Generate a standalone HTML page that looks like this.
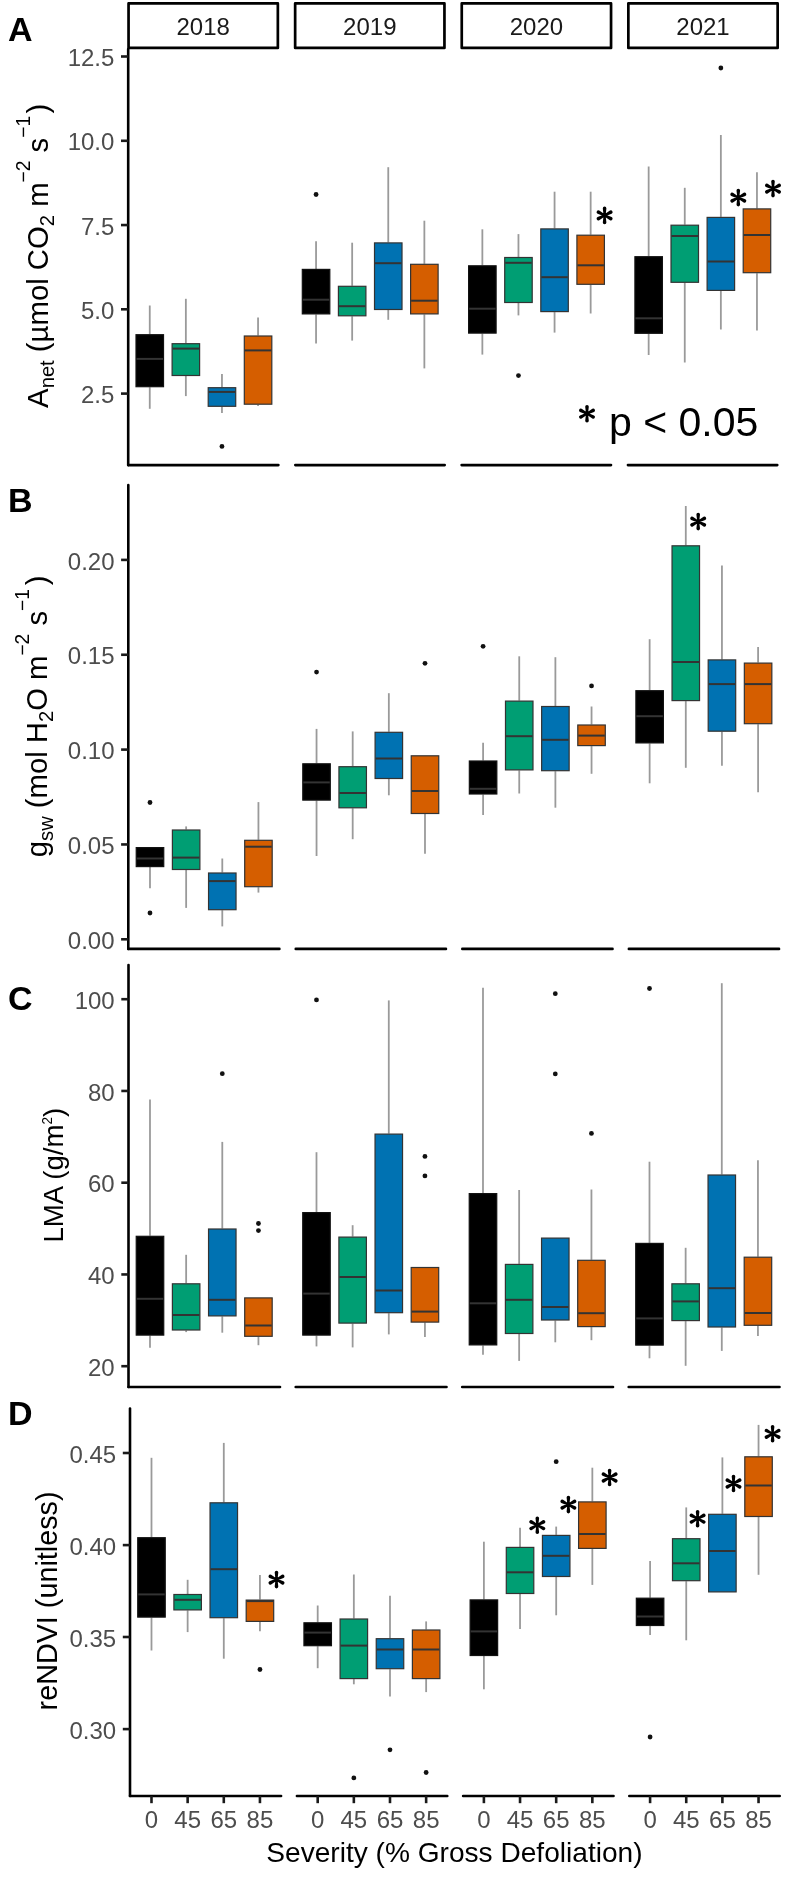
<!DOCTYPE html>
<html><head><meta charset="utf-8"><title>Figure</title>
<style>
html,body{margin:0;padding:0;background:#fff;}
svg{display:block;will-change:transform;}
text{font-family:"Liberation Sans",sans-serif;}
.wk{stroke:#9a9a9a;stroke-width:1.8;}
.ax{stroke:#000;stroke-width:2.6;stroke-linecap:round;}
.tk{stroke:#1a1a1a;stroke-width:2.6;}
.tl{font-size:24.0px;fill:#4d4d4d;}
.st{font-size:24.0px;fill:#1a1a1a;}
.ti{font-size:28.0px;fill:#000;}
.pl{font-size:34px;font-weight:bold;fill:#000;}
.pv{font-size:41px;fill:#000;}
</style></head>
<body>
<svg width="795" height="1882" viewBox="0 0 795 1882">
<rect width="795" height="1882" fill="#fff"/>
<line x1="149.76" y1="305.50" x2="149.76" y2="334.20" class="wk"/>
<line x1="149.76" y1="387.20" x2="149.76" y2="408.80" class="wk"/>
<rect x="136.01" y="334.70" width="27.50" height="52.00" fill="#000000" stroke="#111111" stroke-width="1.2"/>
<line x1="136.51" y1="358.90" x2="163.01" y2="358.90" stroke="#333333" stroke-width="2"/>
<line x1="185.86" y1="298.80" x2="185.86" y2="343.20" class="wk"/>
<line x1="185.86" y1="376.00" x2="185.86" y2="396.10" class="wk"/>
<rect x="172.11" y="343.70" width="27.50" height="31.80" fill="#009E73" stroke="#333333" stroke-width="1.2"/>
<line x1="172.61" y1="348.60" x2="199.11" y2="348.60" stroke="#333333" stroke-width="2"/>
<line x1="221.96" y1="374.00" x2="221.96" y2="387.20" class="wk"/>
<line x1="221.96" y1="406.80" x2="221.96" y2="413.00" class="wk"/>
<rect x="208.21" y="387.70" width="27.50" height="18.60" fill="#0072B2" stroke="#333333" stroke-width="1.2"/>
<line x1="208.71" y1="391.90" x2="235.21" y2="391.90" stroke="#333333" stroke-width="2"/>
<circle cx="221.96" cy="446.40" r="2.4" fill="#111"/>
<line x1="258.06" y1="317.40" x2="258.06" y2="335.50" class="wk"/>
<line x1="258.06" y1="404.70" x2="258.06" y2="406.00" class="wk"/>
<rect x="244.31" y="336.00" width="27.50" height="68.20" fill="#D55E00" stroke="#333333" stroke-width="1.2"/>
<line x1="244.81" y1="350.40" x2="271.31" y2="350.40" stroke="#333333" stroke-width="2"/>
<line x1="316.06" y1="241.20" x2="316.06" y2="268.90" class="wk"/>
<line x1="316.06" y1="314.40" x2="316.06" y2="343.50" class="wk"/>
<rect x="302.31" y="269.40" width="27.50" height="44.50" fill="#000000" stroke="#111111" stroke-width="1.2"/>
<line x1="302.81" y1="299.70" x2="329.31" y2="299.70" stroke="#333333" stroke-width="2"/>
<circle cx="316.06" cy="194.50" r="2.4" fill="#111"/>
<line x1="352.16" y1="242.70" x2="352.16" y2="285.80" class="wk"/>
<line x1="352.16" y1="316.30" x2="352.16" y2="340.60" class="wk"/>
<rect x="338.41" y="286.30" width="27.50" height="29.50" fill="#009E73" stroke="#333333" stroke-width="1.2"/>
<line x1="338.91" y1="306.20" x2="365.41" y2="306.20" stroke="#333333" stroke-width="2"/>
<line x1="388.26" y1="167.20" x2="388.26" y2="242.40" class="wk"/>
<line x1="388.26" y1="310.00" x2="388.26" y2="319.80" class="wk"/>
<rect x="374.51" y="242.90" width="27.50" height="66.60" fill="#0072B2" stroke="#333333" stroke-width="1.2"/>
<line x1="375.01" y1="263.20" x2="401.51" y2="263.20" stroke="#333333" stroke-width="2"/>
<line x1="424.36" y1="220.70" x2="424.36" y2="263.80" class="wk"/>
<line x1="424.36" y1="314.40" x2="424.36" y2="368.40" class="wk"/>
<rect x="410.61" y="264.30" width="27.50" height="49.60" fill="#D55E00" stroke="#333333" stroke-width="1.2"/>
<line x1="411.11" y1="300.70" x2="437.61" y2="300.70" stroke="#333333" stroke-width="2"/>
<line x1="482.36" y1="229.30" x2="482.36" y2="265.30" class="wk"/>
<line x1="482.36" y1="333.60" x2="482.36" y2="354.60" class="wk"/>
<rect x="468.61" y="265.80" width="27.50" height="67.30" fill="#000000" stroke="#111111" stroke-width="1.2"/>
<line x1="469.11" y1="308.70" x2="495.61" y2="308.70" stroke="#333333" stroke-width="2"/>
<line x1="518.46" y1="234.10" x2="518.46" y2="257.00" class="wk"/>
<line x1="518.46" y1="303.00" x2="518.46" y2="315.40" class="wk"/>
<rect x="504.71" y="257.50" width="27.50" height="45.00" fill="#009E73" stroke="#333333" stroke-width="1.2"/>
<line x1="505.21" y1="262.80" x2="531.71" y2="262.80" stroke="#333333" stroke-width="2"/>
<circle cx="518.46" cy="375.60" r="2.4" fill="#111"/>
<line x1="554.56" y1="191.70" x2="554.56" y2="228.40" class="wk"/>
<line x1="554.56" y1="312.10" x2="554.56" y2="332.60" class="wk"/>
<rect x="540.81" y="228.90" width="27.50" height="82.70" fill="#0072B2" stroke="#333333" stroke-width="1.2"/>
<line x1="541.31" y1="277.20" x2="567.81" y2="277.20" stroke="#333333" stroke-width="2"/>
<line x1="590.66" y1="191.70" x2="590.66" y2="234.70" class="wk"/>
<line x1="590.66" y1="284.80" x2="590.66" y2="313.50" class="wk"/>
<rect x="576.91" y="235.20" width="27.50" height="49.10" fill="#D55E00" stroke="#333333" stroke-width="1.2"/>
<line x1="577.41" y1="265.30" x2="603.91" y2="265.30" stroke="#333333" stroke-width="2"/>
<line x1="648.66" y1="166.50" x2="648.66" y2="256.20" class="wk"/>
<line x1="648.66" y1="333.80" x2="648.66" y2="355.00" class="wk"/>
<rect x="634.91" y="256.70" width="27.50" height="76.60" fill="#000000" stroke="#111111" stroke-width="1.2"/>
<line x1="635.41" y1="318.30" x2="661.91" y2="318.30" stroke="#333333" stroke-width="2"/>
<line x1="684.76" y1="187.80" x2="684.76" y2="224.70" class="wk"/>
<line x1="684.76" y1="282.80" x2="684.76" y2="362.50" class="wk"/>
<rect x="671.01" y="225.20" width="27.50" height="57.10" fill="#009E73" stroke="#333333" stroke-width="1.2"/>
<line x1="671.51" y1="236.00" x2="698.01" y2="236.00" stroke="#333333" stroke-width="2"/>
<line x1="720.86" y1="135.00" x2="720.86" y2="216.90" class="wk"/>
<line x1="720.86" y1="290.90" x2="720.86" y2="329.50" class="wk"/>
<rect x="707.11" y="217.40" width="27.50" height="73.00" fill="#0072B2" stroke="#333333" stroke-width="1.2"/>
<line x1="707.61" y1="261.50" x2="734.11" y2="261.50" stroke="#333333" stroke-width="2"/>
<circle cx="720.86" cy="68.00" r="2.4" fill="#111"/>
<line x1="756.96" y1="172.20" x2="756.96" y2="208.40" class="wk"/>
<line x1="756.96" y1="273.20" x2="756.96" y2="330.60" class="wk"/>
<rect x="743.21" y="208.90" width="27.50" height="63.80" fill="#D55E00" stroke="#333333" stroke-width="1.2"/>
<line x1="743.71" y1="235.00" x2="770.21" y2="235.00" stroke="#333333" stroke-width="2"/>
<line x1="128.20" y1="49.00" x2="128.20" y2="465.10" class="ax"/>
<line x1="128.20" y1="465.10" x2="278.40" y2="465.10" class="ax"/>
<line x1="295.30" y1="465.10" x2="444.70" y2="465.10" class="ax"/>
<line x1="461.60" y1="465.10" x2="611.00" y2="465.10" class="ax"/>
<line x1="627.90" y1="465.10" x2="777.30" y2="465.10" class="ax"/>
<line x1="121.00" y1="56.50" x2="128.20" y2="56.50" class="tk"/>
<text x="114.40" y="66.10" class="tl" text-anchor="end">12.5</text>
<line x1="121.00" y1="140.80" x2="128.20" y2="140.80" class="tk"/>
<text x="114.40" y="150.40" class="tl" text-anchor="end">10.0</text>
<line x1="121.00" y1="225.05" x2="128.20" y2="225.05" class="tk"/>
<text x="114.40" y="234.65" class="tl" text-anchor="end">7.5</text>
<line x1="121.00" y1="309.30" x2="128.20" y2="309.30" class="tk"/>
<text x="114.40" y="318.90" class="tl" text-anchor="end">5.0</text>
<line x1="121.00" y1="393.60" x2="128.20" y2="393.60" class="tk"/>
<text x="114.40" y="403.20" class="tl" text-anchor="end">2.5</text>
<line x1="149.99" y1="867.10" x2="149.99" y2="888.20" class="wk"/>
<rect x="136.24" y="847.60" width="27.50" height="19.00" fill="#000000" stroke="#111111" stroke-width="1.2"/>
<line x1="136.74" y1="858.50" x2="163.24" y2="858.50" stroke="#333333" stroke-width="2"/>
<circle cx="149.99" cy="802.50" r="2.4" fill="#111"/>
<circle cx="149.99" cy="913.00" r="2.4" fill="#111"/>
<line x1="186.14" y1="826.40" x2="186.14" y2="829.50" class="wk"/>
<line x1="186.14" y1="870.00" x2="186.14" y2="907.90" class="wk"/>
<rect x="172.39" y="830.00" width="27.50" height="39.50" fill="#009E73" stroke="#333333" stroke-width="1.2"/>
<line x1="172.89" y1="857.60" x2="199.39" y2="857.60" stroke="#333333" stroke-width="2"/>
<line x1="222.29" y1="858.50" x2="222.29" y2="872.50" class="wk"/>
<line x1="222.29" y1="910.20" x2="222.29" y2="926.40" class="wk"/>
<rect x="208.54" y="873.00" width="27.50" height="36.70" fill="#0072B2" stroke="#333333" stroke-width="1.2"/>
<line x1="209.04" y1="881.10" x2="235.54" y2="881.10" stroke="#333333" stroke-width="2"/>
<line x1="258.44" y1="802.10" x2="258.44" y2="839.80" class="wk"/>
<line x1="258.44" y1="887.20" x2="258.44" y2="892.60" class="wk"/>
<rect x="244.69" y="840.30" width="27.50" height="46.40" fill="#D55E00" stroke="#333333" stroke-width="1.2"/>
<line x1="245.19" y1="846.70" x2="271.69" y2="846.70" stroke="#333333" stroke-width="2"/>
<line x1="316.54" y1="728.90" x2="316.54" y2="763.30" class="wk"/>
<line x1="316.54" y1="800.60" x2="316.54" y2="856.00" class="wk"/>
<rect x="302.79" y="763.80" width="27.50" height="36.30" fill="#000000" stroke="#111111" stroke-width="1.2"/>
<line x1="303.29" y1="782.40" x2="329.79" y2="782.40" stroke="#333333" stroke-width="2"/>
<circle cx="316.54" cy="672.10" r="2.4" fill="#111"/>
<line x1="352.69" y1="731.40" x2="352.69" y2="766.20" class="wk"/>
<line x1="352.69" y1="808.30" x2="352.69" y2="839.20" class="wk"/>
<rect x="338.94" y="766.70" width="27.50" height="41.10" fill="#009E73" stroke="#333333" stroke-width="1.2"/>
<line x1="339.44" y1="793.00" x2="365.94" y2="793.00" stroke="#333333" stroke-width="2"/>
<line x1="388.84" y1="693.20" x2="388.84" y2="731.80" class="wk"/>
<line x1="388.84" y1="779.00" x2="388.84" y2="795.30" class="wk"/>
<rect x="375.09" y="732.30" width="27.50" height="46.20" fill="#0072B2" stroke="#333333" stroke-width="1.2"/>
<line x1="375.59" y1="758.50" x2="402.09" y2="758.50" stroke="#333333" stroke-width="2"/>
<line x1="424.99" y1="814.00" x2="424.99" y2="853.80" class="wk"/>
<rect x="411.24" y="755.80" width="27.50" height="57.70" fill="#D55E00" stroke="#333333" stroke-width="1.2"/>
<line x1="411.74" y1="791.00" x2="438.24" y2="791.00" stroke="#333333" stroke-width="2"/>
<circle cx="424.99" cy="663.30" r="2.4" fill="#111"/>
<line x1="483.09" y1="742.70" x2="483.09" y2="760.50" class="wk"/>
<line x1="483.09" y1="794.50" x2="483.09" y2="815.00" class="wk"/>
<rect x="469.34" y="761.00" width="27.50" height="33.00" fill="#000000" stroke="#111111" stroke-width="1.2"/>
<line x1="469.84" y1="788.80" x2="496.34" y2="788.80" stroke="#333333" stroke-width="2"/>
<circle cx="483.09" cy="646.30" r="2.4" fill="#111"/>
<line x1="519.24" y1="656.30" x2="519.24" y2="700.60" class="wk"/>
<line x1="519.24" y1="770.40" x2="519.24" y2="793.50" class="wk"/>
<rect x="505.49" y="701.10" width="27.50" height="68.80" fill="#009E73" stroke="#333333" stroke-width="1.2"/>
<line x1="505.99" y1="736.20" x2="532.49" y2="736.20" stroke="#333333" stroke-width="2"/>
<line x1="555.39" y1="657.20" x2="555.39" y2="706.00" class="wk"/>
<line x1="555.39" y1="771.20" x2="555.39" y2="807.70" class="wk"/>
<rect x="541.64" y="706.50" width="27.50" height="64.20" fill="#0072B2" stroke="#333333" stroke-width="1.2"/>
<line x1="542.14" y1="739.80" x2="568.64" y2="739.80" stroke="#333333" stroke-width="2"/>
<line x1="591.54" y1="706.50" x2="591.54" y2="724.50" class="wk"/>
<line x1="591.54" y1="746.10" x2="591.54" y2="773.80" class="wk"/>
<rect x="577.79" y="725.00" width="27.50" height="20.60" fill="#D55E00" stroke="#333333" stroke-width="1.2"/>
<line x1="578.29" y1="735.60" x2="604.79" y2="735.60" stroke="#333333" stroke-width="2"/>
<circle cx="591.54" cy="685.90" r="2.4" fill="#111"/>
<line x1="649.64" y1="639.20" x2="649.64" y2="690.20" class="wk"/>
<line x1="649.64" y1="743.40" x2="649.64" y2="783.30" class="wk"/>
<rect x="635.89" y="690.70" width="27.50" height="52.20" fill="#000000" stroke="#111111" stroke-width="1.2"/>
<line x1="636.39" y1="716.20" x2="662.89" y2="716.20" stroke="#333333" stroke-width="2"/>
<line x1="685.79" y1="506.00" x2="685.79" y2="545.30" class="wk"/>
<line x1="685.79" y1="701.10" x2="685.79" y2="767.80" class="wk"/>
<rect x="672.04" y="545.80" width="27.50" height="154.80" fill="#009E73" stroke="#333333" stroke-width="1.2"/>
<line x1="672.54" y1="662.00" x2="699.04" y2="662.00" stroke="#333333" stroke-width="2"/>
<line x1="721.94" y1="565.50" x2="721.94" y2="659.40" class="wk"/>
<line x1="721.94" y1="731.70" x2="721.94" y2="765.70" class="wk"/>
<rect x="708.19" y="659.90" width="27.50" height="71.30" fill="#0072B2" stroke="#333333" stroke-width="1.2"/>
<line x1="708.69" y1="684.10" x2="735.19" y2="684.10" stroke="#333333" stroke-width="2"/>
<line x1="758.09" y1="647.10" x2="758.09" y2="662.60" class="wk"/>
<line x1="758.09" y1="724.20" x2="758.09" y2="792.20" class="wk"/>
<rect x="744.34" y="663.10" width="27.50" height="60.60" fill="#D55E00" stroke="#333333" stroke-width="1.2"/>
<line x1="744.84" y1="684.10" x2="771.34" y2="684.10" stroke="#333333" stroke-width="2"/>
<line x1="128.30" y1="485.00" x2="128.30" y2="948.90" class="ax"/>
<line x1="128.30" y1="948.90" x2="279.40" y2="948.90" class="ax"/>
<line x1="295.75" y1="948.90" x2="445.95" y2="948.90" class="ax"/>
<line x1="462.30" y1="948.90" x2="612.50" y2="948.90" class="ax"/>
<line x1="628.85" y1="948.90" x2="779.05" y2="948.90" class="ax"/>
<line x1="121.10" y1="559.90" x2="128.30" y2="559.90" class="tk"/>
<text x="114.50" y="569.50" class="tl" text-anchor="end">0.20</text>
<line x1="121.10" y1="654.75" x2="128.30" y2="654.75" class="tk"/>
<text x="114.50" y="664.35" class="tl" text-anchor="end">0.15</text>
<line x1="121.10" y1="749.60" x2="128.30" y2="749.60" class="tk"/>
<text x="114.50" y="759.20" class="tl" text-anchor="end">0.10</text>
<line x1="121.10" y1="844.45" x2="128.30" y2="844.45" class="tk"/>
<text x="114.50" y="854.05" class="tl" text-anchor="end">0.05</text>
<line x1="121.10" y1="939.30" x2="128.30" y2="939.30" class="tk"/>
<text x="114.50" y="948.90" class="tl" text-anchor="end">0.00</text>
<line x1="149.99" y1="1099.50" x2="149.99" y2="1235.80" class="wk"/>
<line x1="149.99" y1="1335.60" x2="149.99" y2="1347.70" class="wk"/>
<rect x="136.24" y="1236.30" width="27.50" height="98.80" fill="#000000" stroke="#111111" stroke-width="1.2"/>
<line x1="136.74" y1="1298.80" x2="163.24" y2="1298.80" stroke="#333333" stroke-width="2"/>
<line x1="186.14" y1="1254.80" x2="186.14" y2="1283.30" class="wk"/>
<line x1="186.14" y1="1330.50" x2="186.14" y2="1332.10" class="wk"/>
<rect x="172.39" y="1283.80" width="27.50" height="46.20" fill="#009E73" stroke="#333333" stroke-width="1.2"/>
<line x1="172.89" y1="1315.00" x2="199.39" y2="1315.00" stroke="#333333" stroke-width="2"/>
<line x1="222.29" y1="1141.90" x2="222.29" y2="1228.50" class="wk"/>
<line x1="222.29" y1="1316.40" x2="222.29" y2="1332.70" class="wk"/>
<rect x="208.54" y="1229.00" width="27.50" height="86.90" fill="#0072B2" stroke="#333333" stroke-width="1.2"/>
<line x1="209.04" y1="1299.80" x2="235.54" y2="1299.80" stroke="#333333" stroke-width="2"/>
<circle cx="222.29" cy="1073.70" r="2.4" fill="#111"/>
<line x1="258.44" y1="1336.80" x2="258.44" y2="1345.20" class="wk"/>
<rect x="244.69" y="1297.90" width="27.50" height="38.40" fill="#D55E00" stroke="#333333" stroke-width="1.2"/>
<line x1="245.19" y1="1325.50" x2="271.69" y2="1325.50" stroke="#333333" stroke-width="2"/>
<circle cx="258.44" cy="1223.50" r="2.4" fill="#111"/>
<circle cx="258.44" cy="1230.60" r="2.4" fill="#111"/>
<line x1="316.49" y1="1152.20" x2="316.49" y2="1212.10" class="wk"/>
<line x1="316.49" y1="1335.60" x2="316.49" y2="1346.40" class="wk"/>
<rect x="302.74" y="1212.60" width="27.50" height="122.50" fill="#000000" stroke="#111111" stroke-width="1.2"/>
<line x1="303.24" y1="1293.60" x2="329.74" y2="1293.60" stroke="#333333" stroke-width="2"/>
<circle cx="316.49" cy="999.90" r="2.4" fill="#111"/>
<line x1="352.64" y1="1225.20" x2="352.64" y2="1236.60" class="wk"/>
<line x1="352.64" y1="1323.60" x2="352.64" y2="1347.40" class="wk"/>
<rect x="338.89" y="1237.10" width="27.50" height="86.00" fill="#009E73" stroke="#333333" stroke-width="1.2"/>
<line x1="339.39" y1="1277.00" x2="365.89" y2="1277.00" stroke="#333333" stroke-width="2"/>
<line x1="388.79" y1="1000.40" x2="388.79" y2="1133.60" class="wk"/>
<line x1="388.79" y1="1313.20" x2="388.79" y2="1334.40" class="wk"/>
<rect x="375.04" y="1134.10" width="27.50" height="178.60" fill="#0072B2" stroke="#333333" stroke-width="1.2"/>
<line x1="375.54" y1="1290.50" x2="402.04" y2="1290.50" stroke="#333333" stroke-width="2"/>
<line x1="424.94" y1="1322.60" x2="424.94" y2="1337.10" class="wk"/>
<rect x="411.19" y="1267.50" width="27.50" height="54.60" fill="#D55E00" stroke="#333333" stroke-width="1.2"/>
<line x1="411.69" y1="1311.60" x2="438.19" y2="1311.60" stroke="#333333" stroke-width="2"/>
<circle cx="424.94" cy="1156.40" r="2.4" fill="#111"/>
<circle cx="424.94" cy="1175.90" r="2.4" fill="#111"/>
<line x1="482.99" y1="987.80" x2="482.99" y2="1193.10" class="wk"/>
<line x1="482.99" y1="1345.40" x2="482.99" y2="1354.70" class="wk"/>
<rect x="469.24" y="1193.60" width="27.50" height="151.30" fill="#000000" stroke="#111111" stroke-width="1.2"/>
<line x1="469.74" y1="1303.30" x2="496.24" y2="1303.30" stroke="#333333" stroke-width="2"/>
<line x1="519.14" y1="1190.00" x2="519.14" y2="1263.90" class="wk"/>
<line x1="519.14" y1="1334.00" x2="519.14" y2="1360.90" class="wk"/>
<rect x="505.39" y="1264.40" width="27.50" height="69.10" fill="#009E73" stroke="#333333" stroke-width="1.2"/>
<line x1="505.89" y1="1299.80" x2="532.39" y2="1299.80" stroke="#333333" stroke-width="2"/>
<line x1="555.29" y1="1320.50" x2="555.29" y2="1342.30" class="wk"/>
<rect x="541.54" y="1238.10" width="27.50" height="81.90" fill="#0072B2" stroke="#333333" stroke-width="1.2"/>
<line x1="542.04" y1="1307.00" x2="568.54" y2="1307.00" stroke="#333333" stroke-width="2"/>
<circle cx="555.29" cy="993.70" r="2.4" fill="#111"/>
<circle cx="555.29" cy="1073.90" r="2.4" fill="#111"/>
<line x1="591.44" y1="1189.50" x2="591.44" y2="1259.80" class="wk"/>
<line x1="591.44" y1="1327.10" x2="591.44" y2="1340.20" class="wk"/>
<rect x="577.69" y="1260.30" width="27.50" height="66.30" fill="#D55E00" stroke="#333333" stroke-width="1.2"/>
<line x1="578.19" y1="1313.20" x2="604.69" y2="1313.20" stroke="#333333" stroke-width="2"/>
<circle cx="591.44" cy="1133.40" r="2.4" fill="#111"/>
<line x1="649.49" y1="1161.70" x2="649.49" y2="1242.90" class="wk"/>
<line x1="649.49" y1="1345.60" x2="649.49" y2="1358.30" class="wk"/>
<rect x="635.74" y="1243.40" width="27.50" height="101.70" fill="#000000" stroke="#111111" stroke-width="1.2"/>
<line x1="636.24" y1="1318.40" x2="662.74" y2="1318.40" stroke="#333333" stroke-width="2"/>
<circle cx="649.49" cy="988.50" r="2.4" fill="#111"/>
<line x1="685.64" y1="1247.80" x2="685.64" y2="1283.30" class="wk"/>
<line x1="685.64" y1="1321.10" x2="685.64" y2="1365.80" class="wk"/>
<rect x="671.89" y="1283.80" width="27.50" height="36.80" fill="#009E73" stroke="#333333" stroke-width="1.2"/>
<line x1="672.39" y1="1301.40" x2="698.89" y2="1301.40" stroke="#333333" stroke-width="2"/>
<line x1="721.79" y1="983.20" x2="721.79" y2="1174.50" class="wk"/>
<line x1="721.79" y1="1327.50" x2="721.79" y2="1350.90" class="wk"/>
<rect x="708.04" y="1175.00" width="27.50" height="152.00" fill="#0072B2" stroke="#333333" stroke-width="1.2"/>
<line x1="708.54" y1="1288.20" x2="735.04" y2="1288.20" stroke="#333333" stroke-width="2"/>
<line x1="757.94" y1="1160.20" x2="757.94" y2="1256.70" class="wk"/>
<line x1="757.94" y1="1325.80" x2="757.94" y2="1336.00" class="wk"/>
<rect x="744.19" y="1257.20" width="27.50" height="68.10" fill="#D55E00" stroke="#333333" stroke-width="1.2"/>
<line x1="744.69" y1="1313.00" x2="771.19" y2="1313.00" stroke="#333333" stroke-width="2"/>
<line x1="128.50" y1="965.00" x2="128.50" y2="1387.00" class="ax"/>
<line x1="128.50" y1="1387.00" x2="280.00" y2="1387.00" class="ax"/>
<line x1="295.70" y1="1387.00" x2="446.50" y2="1387.00" class="ax"/>
<line x1="462.20" y1="1387.00" x2="613.00" y2="1387.00" class="ax"/>
<line x1="628.70" y1="1387.00" x2="779.50" y2="1387.00" class="ax"/>
<line x1="121.30" y1="999.20" x2="128.50" y2="999.20" class="tk"/>
<text x="114.70" y="1008.80" class="tl" text-anchor="end">100</text>
<line x1="121.30" y1="1090.95" x2="128.50" y2="1090.95" class="tk"/>
<text x="114.70" y="1100.55" class="tl" text-anchor="end">80</text>
<line x1="121.30" y1="1182.70" x2="128.50" y2="1182.70" class="tk"/>
<text x="114.70" y="1192.30" class="tl" text-anchor="end">60</text>
<line x1="121.30" y1="1274.45" x2="128.50" y2="1274.45" class="tk"/>
<text x="114.70" y="1284.05" class="tl" text-anchor="end">40</text>
<line x1="121.30" y1="1366.20" x2="128.50" y2="1366.20" class="tk"/>
<text x="114.70" y="1375.80" class="tl" text-anchor="end">20</text>
<line x1="151.49" y1="1457.80" x2="151.49" y2="1537.20" class="wk"/>
<line x1="151.49" y1="1617.60" x2="151.49" y2="1650.50" class="wk"/>
<rect x="137.74" y="1537.70" width="27.50" height="79.40" fill="#000000" stroke="#111111" stroke-width="1.2"/>
<line x1="138.24" y1="1594.40" x2="164.74" y2="1594.40" stroke="#333333" stroke-width="2"/>
<line x1="187.64" y1="1579.80" x2="187.64" y2="1594.00" class="wk"/>
<line x1="187.64" y1="1610.40" x2="187.64" y2="1632.10" class="wk"/>
<rect x="173.89" y="1594.50" width="27.50" height="15.40" fill="#009E73" stroke="#333333" stroke-width="1.2"/>
<line x1="174.39" y1="1599.80" x2="200.89" y2="1599.80" stroke="#333333" stroke-width="2"/>
<line x1="223.79" y1="1442.90" x2="223.79" y2="1502.30" class="wk"/>
<line x1="223.79" y1="1618.20" x2="223.79" y2="1658.70" class="wk"/>
<rect x="210.04" y="1502.80" width="27.50" height="114.90" fill="#0072B2" stroke="#333333" stroke-width="1.2"/>
<line x1="210.54" y1="1569.20" x2="237.04" y2="1569.20" stroke="#333333" stroke-width="2"/>
<line x1="259.94" y1="1575.00" x2="259.94" y2="1599.60" class="wk"/>
<line x1="259.94" y1="1621.90" x2="259.94" y2="1631.20" class="wk"/>
<rect x="246.19" y="1600.10" width="27.50" height="21.30" fill="#D55E00" stroke="#333333" stroke-width="1.2"/>
<line x1="246.69" y1="1601.10" x2="273.19" y2="1601.10" stroke="#333333" stroke-width="2"/>
<circle cx="259.94" cy="1669.50" r="2.4" fill="#111"/>
<line x1="317.69" y1="1605.50" x2="317.69" y2="1622.30" class="wk"/>
<line x1="317.69" y1="1646.20" x2="317.69" y2="1668.20" class="wk"/>
<rect x="303.94" y="1622.80" width="27.50" height="22.90" fill="#000000" stroke="#111111" stroke-width="1.2"/>
<line x1="304.44" y1="1632.60" x2="330.94" y2="1632.60" stroke="#333333" stroke-width="2"/>
<line x1="353.84" y1="1574.50" x2="353.84" y2="1618.50" class="wk"/>
<line x1="353.84" y1="1679.10" x2="353.84" y2="1684.30" class="wk"/>
<rect x="340.09" y="1619.00" width="27.50" height="59.60" fill="#009E73" stroke="#333333" stroke-width="1.2"/>
<line x1="340.59" y1="1645.60" x2="367.09" y2="1645.60" stroke="#333333" stroke-width="2"/>
<circle cx="353.84" cy="1777.90" r="2.4" fill="#111"/>
<line x1="389.99" y1="1595.80" x2="389.99" y2="1638.20" class="wk"/>
<line x1="389.99" y1="1669.20" x2="389.99" y2="1696.50" class="wk"/>
<rect x="376.24" y="1638.70" width="27.50" height="30.00" fill="#0072B2" stroke="#333333" stroke-width="1.2"/>
<line x1="376.74" y1="1649.50" x2="403.24" y2="1649.50" stroke="#333333" stroke-width="2"/>
<circle cx="389.99" cy="1749.80" r="2.4" fill="#111"/>
<line x1="426.14" y1="1621.40" x2="426.14" y2="1629.50" class="wk"/>
<line x1="426.14" y1="1679.10" x2="426.14" y2="1692.10" class="wk"/>
<rect x="412.39" y="1630.00" width="27.50" height="48.60" fill="#D55E00" stroke="#333333" stroke-width="1.2"/>
<line x1="412.89" y1="1649.50" x2="439.39" y2="1649.50" stroke="#333333" stroke-width="2"/>
<circle cx="426.14" cy="1772.50" r="2.4" fill="#111"/>
<line x1="483.89" y1="1541.70" x2="483.89" y2="1599.40" class="wk"/>
<line x1="483.89" y1="1656.00" x2="483.89" y2="1689.30" class="wk"/>
<rect x="470.14" y="1599.90" width="27.50" height="55.60" fill="#000000" stroke="#111111" stroke-width="1.2"/>
<line x1="470.64" y1="1631.40" x2="497.14" y2="1631.40" stroke="#333333" stroke-width="2"/>
<line x1="520.04" y1="1527.80" x2="520.04" y2="1546.90" class="wk"/>
<line x1="520.04" y1="1594.00" x2="520.04" y2="1628.90" class="wk"/>
<rect x="506.29" y="1547.40" width="27.50" height="46.10" fill="#009E73" stroke="#333333" stroke-width="1.2"/>
<line x1="506.79" y1="1572.30" x2="533.29" y2="1572.30" stroke="#333333" stroke-width="2"/>
<line x1="556.19" y1="1526.60" x2="556.19" y2="1534.90" class="wk"/>
<line x1="556.19" y1="1577.00" x2="556.19" y2="1615.30" class="wk"/>
<rect x="542.44" y="1535.40" width="27.50" height="41.10" fill="#0072B2" stroke="#333333" stroke-width="1.2"/>
<line x1="542.94" y1="1555.80" x2="569.44" y2="1555.80" stroke="#333333" stroke-width="2"/>
<circle cx="556.19" cy="1461.70" r="2.4" fill="#111"/>
<line x1="592.34" y1="1467.70" x2="592.34" y2="1501.40" class="wk"/>
<line x1="592.34" y1="1548.90" x2="592.34" y2="1584.90" class="wk"/>
<rect x="578.59" y="1501.90" width="27.50" height="46.50" fill="#D55E00" stroke="#333333" stroke-width="1.2"/>
<line x1="579.09" y1="1534.00" x2="605.59" y2="1534.00" stroke="#333333" stroke-width="2"/>
<line x1="650.09" y1="1561.00" x2="650.09" y2="1597.70" class="wk"/>
<line x1="650.09" y1="1626.00" x2="650.09" y2="1635.00" class="wk"/>
<rect x="636.34" y="1598.20" width="27.50" height="27.30" fill="#000000" stroke="#111111" stroke-width="1.2"/>
<line x1="636.84" y1="1616.50" x2="663.34" y2="1616.50" stroke="#333333" stroke-width="2"/>
<circle cx="650.09" cy="1737.00" r="2.4" fill="#111"/>
<line x1="686.24" y1="1507.40" x2="686.24" y2="1538.20" class="wk"/>
<line x1="686.24" y1="1581.20" x2="686.24" y2="1640.30" class="wk"/>
<rect x="672.49" y="1538.70" width="27.50" height="42.00" fill="#009E73" stroke="#333333" stroke-width="1.2"/>
<line x1="672.99" y1="1563.30" x2="699.49" y2="1563.30" stroke="#333333" stroke-width="2"/>
<line x1="722.39" y1="1457.40" x2="722.39" y2="1513.80" class="wk"/>
<rect x="708.64" y="1514.30" width="27.50" height="77.60" fill="#0072B2" stroke="#333333" stroke-width="1.2"/>
<line x1="709.14" y1="1551.00" x2="735.64" y2="1551.00" stroke="#333333" stroke-width="2"/>
<line x1="758.54" y1="1424.90" x2="758.54" y2="1456.30" class="wk"/>
<line x1="758.54" y1="1517.00" x2="758.54" y2="1574.80" class="wk"/>
<rect x="744.79" y="1456.80" width="27.50" height="59.70" fill="#D55E00" stroke="#333333" stroke-width="1.2"/>
<line x1="745.29" y1="1485.50" x2="771.79" y2="1485.50" stroke="#333333" stroke-width="2"/>
<line x1="130.00" y1="1408.50" x2="130.00" y2="1796.00" class="ax"/>
<line x1="130.00" y1="1796.00" x2="281.10" y2="1796.00" class="ax"/>
<line x1="296.90" y1="1796.00" x2="447.30" y2="1796.00" class="ax"/>
<line x1="463.10" y1="1796.00" x2="613.50" y2="1796.00" class="ax"/>
<line x1="629.30" y1="1796.00" x2="779.70" y2="1796.00" class="ax"/>
<line x1="122.80" y1="1453.00" x2="130.00" y2="1453.00" class="tk"/>
<text x="116.20" y="1462.60" class="tl" text-anchor="end">0.45</text>
<line x1="122.80" y1="1545.10" x2="130.00" y2="1545.10" class="tk"/>
<text x="116.20" y="1554.70" class="tl" text-anchor="end">0.40</text>
<line x1="122.80" y1="1637.00" x2="130.00" y2="1637.00" class="tk"/>
<text x="116.20" y="1646.60" class="tl" text-anchor="end">0.35</text>
<line x1="122.80" y1="1729.10" x2="130.00" y2="1729.10" class="tk"/>
<text x="116.20" y="1738.70" class="tl" text-anchor="end">0.30</text>
<line x1="151.49" y1="1796.00" x2="151.49" y2="1803.20" class="tk"/>
<text x="151.49" y="1828.00" class="tl" text-anchor="middle">0</text>
<line x1="187.64" y1="1796.00" x2="187.64" y2="1803.20" class="tk"/>
<text x="187.64" y="1828.00" class="tl" text-anchor="middle">45</text>
<line x1="223.79" y1="1796.00" x2="223.79" y2="1803.20" class="tk"/>
<text x="223.79" y="1828.00" class="tl" text-anchor="middle">65</text>
<line x1="259.94" y1="1796.00" x2="259.94" y2="1803.20" class="tk"/>
<text x="259.94" y="1828.00" class="tl" text-anchor="middle">85</text>
<line x1="317.69" y1="1796.00" x2="317.69" y2="1803.20" class="tk"/>
<text x="317.69" y="1828.00" class="tl" text-anchor="middle">0</text>
<line x1="353.84" y1="1796.00" x2="353.84" y2="1803.20" class="tk"/>
<text x="353.84" y="1828.00" class="tl" text-anchor="middle">45</text>
<line x1="389.99" y1="1796.00" x2="389.99" y2="1803.20" class="tk"/>
<text x="389.99" y="1828.00" class="tl" text-anchor="middle">65</text>
<line x1="426.14" y1="1796.00" x2="426.14" y2="1803.20" class="tk"/>
<text x="426.14" y="1828.00" class="tl" text-anchor="middle">85</text>
<line x1="483.89" y1="1796.00" x2="483.89" y2="1803.20" class="tk"/>
<text x="483.89" y="1828.00" class="tl" text-anchor="middle">0</text>
<line x1="520.04" y1="1796.00" x2="520.04" y2="1803.20" class="tk"/>
<text x="520.04" y="1828.00" class="tl" text-anchor="middle">45</text>
<line x1="556.19" y1="1796.00" x2="556.19" y2="1803.20" class="tk"/>
<text x="556.19" y="1828.00" class="tl" text-anchor="middle">65</text>
<line x1="592.34" y1="1796.00" x2="592.34" y2="1803.20" class="tk"/>
<text x="592.34" y="1828.00" class="tl" text-anchor="middle">85</text>
<line x1="650.09" y1="1796.00" x2="650.09" y2="1803.20" class="tk"/>
<text x="650.09" y="1828.00" class="tl" text-anchor="middle">0</text>
<line x1="686.24" y1="1796.00" x2="686.24" y2="1803.20" class="tk"/>
<text x="686.24" y="1828.00" class="tl" text-anchor="middle">45</text>
<line x1="722.39" y1="1796.00" x2="722.39" y2="1803.20" class="tk"/>
<text x="722.39" y="1828.00" class="tl" text-anchor="middle">65</text>
<line x1="758.54" y1="1796.00" x2="758.54" y2="1803.20" class="tk"/>
<text x="758.54" y="1828.00" class="tl" text-anchor="middle">85</text>
<rect x="128.55" y="3.4" width="149.30" height="44.5" fill="#fff" stroke="#000" stroke-width="2.7" stroke-linejoin="round"/>
<text x="203.20" y="34.6" class="st" text-anchor="middle">2018</text>
<rect x="295.15" y="3.4" width="149.30" height="44.5" fill="#fff" stroke="#000" stroke-width="2.7" stroke-linejoin="round"/>
<text x="369.80" y="34.6" class="st" text-anchor="middle">2019</text>
<rect x="461.75" y="3.4" width="149.30" height="44.5" fill="#fff" stroke="#000" stroke-width="2.7" stroke-linejoin="round"/>
<text x="536.40" y="34.6" class="st" text-anchor="middle">2020</text>
<rect x="628.35" y="3.4" width="149.30" height="44.5" fill="#fff" stroke="#000" stroke-width="2.7" stroke-linejoin="round"/>
<text x="703.00" y="34.6" class="st" text-anchor="middle">2021</text>
<text x="8" y="40.6" class="pl">A</text>
<text x="8" y="512.2" class="pl">B</text>
<text x="8" y="1010.0" class="pl">C</text>
<text x="8" y="1424.7" class="pl">D</text>
<path d="M605.60 215.40L606.40 208.40A1.80 1.80 0 0 0 602.80 208.40L603.60 215.40ZM605.07 216.28L611.63 213.70A1.80 1.80 0 0 0 609.94 210.52L604.13 214.52ZM604.13 216.28L609.94 220.28A1.80 1.80 0 0 0 611.63 217.10L605.07 214.52ZM603.60 215.40L602.80 222.40A1.80 1.80 0 0 0 606.40 222.40L605.60 215.40ZM604.13 214.52L597.57 217.10A1.80 1.80 0 0 0 599.26 220.28L605.07 216.28ZM605.07 214.52L599.26 210.52A1.80 1.80 0 0 0 597.57 213.70L604.13 216.28Z" fill="#000"/><circle cx="604.60" cy="215.40" r="1.6" fill="#000"/>
<path d="M739.30 197.60L740.10 190.60A1.80 1.80 0 0 0 736.50 190.60L737.30 197.60ZM738.77 198.48L745.33 195.90A1.80 1.80 0 0 0 743.64 192.72L737.83 196.72ZM737.83 198.48L743.64 202.48A1.80 1.80 0 0 0 745.33 199.30L738.77 196.72ZM737.30 197.60L736.50 204.60A1.80 1.80 0 0 0 740.10 204.60L739.30 197.60ZM737.83 196.72L731.27 199.30A1.80 1.80 0 0 0 732.96 202.48L738.77 198.48ZM738.77 196.72L732.96 192.72A1.80 1.80 0 0 0 731.27 195.90L737.83 198.48Z" fill="#000"/><circle cx="738.30" cy="197.60" r="1.6" fill="#000"/>
<path d="M774.00 188.60L774.80 181.60A1.80 1.80 0 0 0 771.20 181.60L772.00 188.60ZM773.47 189.48L780.03 186.90A1.80 1.80 0 0 0 778.34 183.72L772.53 187.72ZM772.53 189.48L778.34 193.48A1.80 1.80 0 0 0 780.03 190.30L773.47 187.72ZM772.00 188.60L771.20 195.60A1.80 1.80 0 0 0 774.80 195.60L774.00 188.60ZM772.53 187.72L765.97 190.30A1.80 1.80 0 0 0 767.66 193.48L773.47 189.48ZM773.47 187.72L767.66 183.72A1.80 1.80 0 0 0 765.97 186.90L772.53 189.48Z" fill="#000"/><circle cx="773.00" cy="188.60" r="1.6" fill="#000"/>
<path d="M699.20 521.60L700.00 514.60A1.80 1.80 0 0 0 696.40 514.60L697.20 521.60ZM698.67 522.48L705.23 519.90A1.80 1.80 0 0 0 703.54 516.72L697.73 520.72ZM697.73 522.48L703.54 526.48A1.80 1.80 0 0 0 705.23 523.30L698.67 520.72ZM697.20 521.60L696.40 528.60A1.80 1.80 0 0 0 700.00 528.60L699.20 521.60ZM697.73 520.72L691.17 523.30A1.80 1.80 0 0 0 692.86 526.48L698.67 522.48ZM698.67 520.72L692.86 516.72A1.80 1.80 0 0 0 691.17 519.90L697.73 522.48Z" fill="#000"/><circle cx="698.20" cy="521.60" r="1.6" fill="#000"/>
<path d="M277.50 1579.60L278.30 1572.60A1.80 1.80 0 0 0 274.70 1572.60L275.50 1579.60ZM276.97 1580.48L283.53 1577.90A1.80 1.80 0 0 0 281.84 1574.72L276.03 1578.72ZM276.03 1580.48L281.84 1584.48A1.80 1.80 0 0 0 283.53 1581.30L276.97 1578.72ZM275.50 1579.60L274.70 1586.60A1.80 1.80 0 0 0 278.30 1586.60L277.50 1579.60ZM276.03 1578.72L269.47 1581.30A1.80 1.80 0 0 0 271.16 1584.48L276.97 1580.48ZM276.97 1578.72L271.16 1574.72A1.80 1.80 0 0 0 269.47 1577.90L276.03 1580.48Z" fill="#000"/><circle cx="276.50" cy="1579.60" r="1.6" fill="#000"/>
<path d="M538.30 1525.20L539.10 1518.20A1.80 1.80 0 0 0 535.50 1518.20L536.30 1525.20ZM537.77 1526.08L544.33 1523.50A1.80 1.80 0 0 0 542.64 1520.32L536.83 1524.32ZM536.83 1526.08L542.64 1530.08A1.80 1.80 0 0 0 544.33 1526.90L537.77 1524.32ZM536.30 1525.20L535.50 1532.20A1.80 1.80 0 0 0 539.10 1532.20L538.30 1525.20ZM536.83 1524.32L530.27 1526.90A1.80 1.80 0 0 0 531.96 1530.08L537.77 1526.08ZM537.77 1524.32L531.96 1520.32A1.80 1.80 0 0 0 530.27 1523.50L536.83 1526.08Z" fill="#000"/><circle cx="537.30" cy="1525.20" r="1.6" fill="#000"/>
<path d="M569.40 1504.60L570.20 1497.60A1.80 1.80 0 0 0 566.60 1497.60L567.40 1504.60ZM568.87 1505.48L575.43 1502.90A1.80 1.80 0 0 0 573.74 1499.72L567.93 1503.72ZM567.93 1505.48L573.74 1509.48A1.80 1.80 0 0 0 575.43 1506.30L568.87 1503.72ZM567.40 1504.60L566.60 1511.60A1.80 1.80 0 0 0 570.20 1511.60L569.40 1504.60ZM567.93 1503.72L561.37 1506.30A1.80 1.80 0 0 0 563.06 1509.48L568.87 1505.48ZM568.87 1503.72L563.06 1499.72A1.80 1.80 0 0 0 561.37 1502.90L567.93 1505.48Z" fill="#000"/><circle cx="568.40" cy="1504.60" r="1.6" fill="#000"/>
<path d="M610.60 1477.50L611.40 1470.50A1.80 1.80 0 0 0 607.80 1470.50L608.60 1477.50ZM610.07 1478.38L616.63 1475.80A1.80 1.80 0 0 0 614.94 1472.62L609.13 1476.62ZM609.13 1478.38L614.94 1482.38A1.80 1.80 0 0 0 616.63 1479.20L610.07 1476.62ZM608.60 1477.50L607.80 1484.50A1.80 1.80 0 0 0 611.40 1484.50L610.60 1477.50ZM609.13 1476.62L602.57 1479.20A1.80 1.80 0 0 0 604.26 1482.38L610.07 1478.38ZM610.07 1476.62L604.26 1472.62A1.80 1.80 0 0 0 602.57 1475.80L609.13 1478.38Z" fill="#000"/><circle cx="609.60" cy="1477.50" r="1.6" fill="#000"/>
<path d="M698.60 1518.70L699.40 1511.70A1.80 1.80 0 0 0 695.80 1511.70L696.60 1518.70ZM698.07 1519.58L704.63 1517.00A1.80 1.80 0 0 0 702.94 1513.82L697.13 1517.82ZM697.13 1519.58L702.94 1523.58A1.80 1.80 0 0 0 704.63 1520.40L698.07 1517.82ZM696.60 1518.70L695.80 1525.70A1.80 1.80 0 0 0 699.40 1525.70L698.60 1518.70ZM697.13 1517.82L690.57 1520.40A1.80 1.80 0 0 0 692.26 1523.58L698.07 1519.58ZM698.07 1517.82L692.26 1513.82A1.80 1.80 0 0 0 690.57 1517.00L697.13 1519.58Z" fill="#000"/><circle cx="697.60" cy="1518.70" r="1.6" fill="#000"/>
<path d="M734.50 1483.50L735.30 1476.50A1.80 1.80 0 0 0 731.70 1476.50L732.50 1483.50ZM733.97 1484.38L740.53 1481.80A1.80 1.80 0 0 0 738.84 1478.62L733.03 1482.62ZM733.03 1484.38L738.84 1488.38A1.80 1.80 0 0 0 740.53 1485.20L733.97 1482.62ZM732.50 1483.50L731.70 1490.50A1.80 1.80 0 0 0 735.30 1490.50L734.50 1483.50ZM733.03 1482.62L726.47 1485.20A1.80 1.80 0 0 0 728.16 1488.38L733.97 1484.38ZM733.97 1482.62L728.16 1478.62A1.80 1.80 0 0 0 726.47 1481.80L733.03 1484.38Z" fill="#000"/><circle cx="733.50" cy="1483.50" r="1.6" fill="#000"/>
<path d="M773.60 1433.80L774.40 1426.80A1.80 1.80 0 0 0 770.80 1426.80L771.60 1433.80ZM773.07 1434.68L779.63 1432.10A1.80 1.80 0 0 0 777.94 1428.92L772.13 1432.92ZM772.13 1434.68L777.94 1438.68A1.80 1.80 0 0 0 779.63 1435.50L773.07 1432.92ZM771.60 1433.80L770.80 1440.80A1.80 1.80 0 0 0 774.40 1440.80L773.60 1433.80ZM772.13 1432.92L765.57 1435.50A1.80 1.80 0 0 0 767.26 1438.68L773.07 1434.68ZM773.07 1432.92L767.26 1428.92A1.80 1.80 0 0 0 765.57 1432.10L772.13 1434.68Z" fill="#000"/><circle cx="772.60" cy="1433.80" r="1.6" fill="#000"/>
<path d="M588.00 413.70L588.80 406.70A1.80 1.80 0 0 0 585.20 406.70L586.00 413.70ZM587.47 414.58L594.03 412.00A1.80 1.80 0 0 0 592.34 408.82L586.53 412.82ZM586.53 414.58L592.34 418.58A1.80 1.80 0 0 0 594.03 415.40L587.47 412.82ZM586.00 413.70L585.20 420.70A1.80 1.80 0 0 0 588.80 420.70L588.00 413.70ZM586.53 412.82L579.97 415.40A1.80 1.80 0 0 0 581.66 418.58L587.47 414.58ZM587.47 412.82L581.66 408.82A1.80 1.80 0 0 0 579.97 412.00L586.53 414.58Z" fill="#000"/><circle cx="587.00" cy="413.70" r="1.6" fill="#000"/>
<text x="609" y="435.6" class="pv">p &lt; 0.05</text>
<text x="454.4" y="1861.5" class="ti" text-anchor="middle" style="font-size:28.1px">Severity (% Gross Defoliation)</text>
<text transform="translate(47.8,407.9) scale(1.030,1) rotate(-90)" class="ti" style="font-size:29.30px">A<tspan dy="6.0" style="font-size:20.21px">net</tspan><tspan dy="-6.0" dx="0.0"> (µmol CO</tspan><tspan dy="6.0" style="font-size:20.21px">2</tspan><tspan dy="-6.0" dx="0.0"> m</tspan><tspan dy="-17.5" style="font-size:19.20px">−2</tspan><tspan dy="17.5" dx="0.0"> s</tspan><tspan dy="-17.5" style="font-size:19.20px">−1</tspan><tspan dy="17.5" dx="2.5">)</tspan></text>
<text transform="translate(47.1,857.2) scale(1.030,1) rotate(-90)" class="ti" style="font-size:29.25px">g<tspan dy="6.0" style="font-size:20.17px">sw</tspan><tspan dy="-6.0" dx="0.0"> (mol H</tspan><tspan dy="6.0" style="font-size:20.17px">2</tspan><tspan dy="-6.0" dx="0.0">O m</tspan><tspan dy="-17.5" style="font-size:19.16px">−2</tspan><tspan dy="17.5" dx="0.0"> s</tspan><tspan dy="-17.5" style="font-size:19.16px">−1</tspan><tspan dy="17.5" dx="4.0">)</tspan></text>
<text transform="translate(63.1,1242.6) scale(1.03,1) rotate(-90)" class="ti" style="font-size:27.6px">LMA (g/m<tspan dy="-10.3" style="font-size:13.5px">2</tspan><tspan dy="10.3">)</tspan></text>
<text transform="translate(57.0,1710.4) rotate(-90)" class="ti" style="font-size:28.75px">reNDVI (unitless)</text>
</svg>
</body></html>
